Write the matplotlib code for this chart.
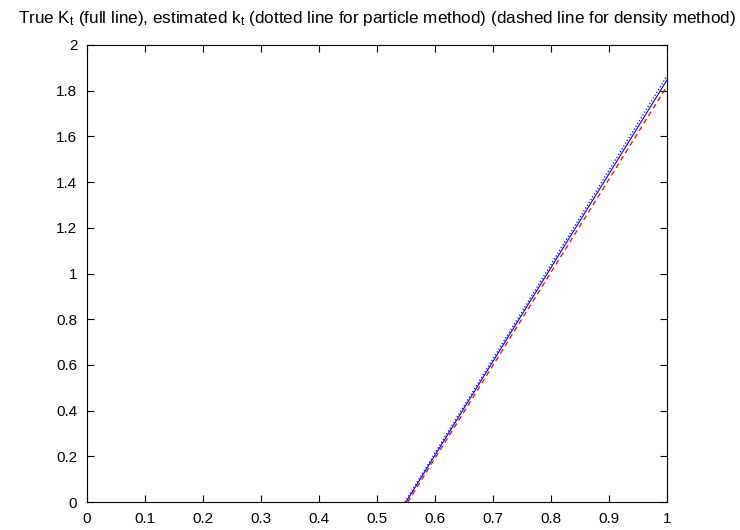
import matplotlib
matplotlib.use('Agg')
import matplotlib.pyplot as plt

plt.rcParams['font.family'] = 'Liberation Sans'
plt.rcParams['mathtext.default'] = 'regular'

# curves are zero before the kink, drawn from the kink on
t_true = [0.55, 1.0]
K_true = [0.0, 1.847]

t_part = [0.548, 1.0]
k_part = [0.0, 1.865]

t_dens = [0.553, 1.0]
k_dens = [0.0, 1.82]

xticks = [0, 0.1, 0.2, 0.3, 0.4, 0.5, 0.6, 0.7, 0.8, 0.9, 1]
xticklabels = ['0', '0.1', '0.2', '0.3', '0.4', '0.5', '0.6', '0.7', '0.8', '0.9', '1']
yticks = [0, 0.2, 0.4, 0.6, 0.8, 1, 1.2, 1.4, 1.6, 1.8, 2]
yticklabels = ['0', '0.2', '0.4', '0.6', '0.8', '1', '1.2', '1.4', '1.6', '1.8', '2']

fig = plt.figure(figsize=(7.4, 5.3), dpi=100)
ax = fig.add_axes([0.1176, 0.0528, 0.7838, 0.8623])

ax.plot(t_part, k_part, color='#0000ff', linestyle=':', linewidth=0.9)
ax.plot(t_dens, k_dens, color='#ff0000', linestyle='--', linewidth=0.9, dashes=(4, 3))
ax.plot(t_true, K_true, color='#0000ff', linestyle='-', linewidth=0.8)

ax.set_xlim(0, 1)
ax.set_ylim(0, 2)
ax.set_xticks(xticks)
ax.set_xticklabels(xticklabels)
ax.set_yticks(yticks)
ax.set_yticklabels(yticklabels)
ax.tick_params(direction='in', top=True, right=True, labelsize=11, length=5, width=0.8, pad=7)
for s in ax.spines.values():
    s.set_linewidth(0.8)

ax.set_title('True K$_t$ (full line), estimated k$_t$ (dotted line for particle method) '
             '(dashed line for density method)', fontsize=12.3, pad=16)

fig.savefig('out.png', dpi=100)
